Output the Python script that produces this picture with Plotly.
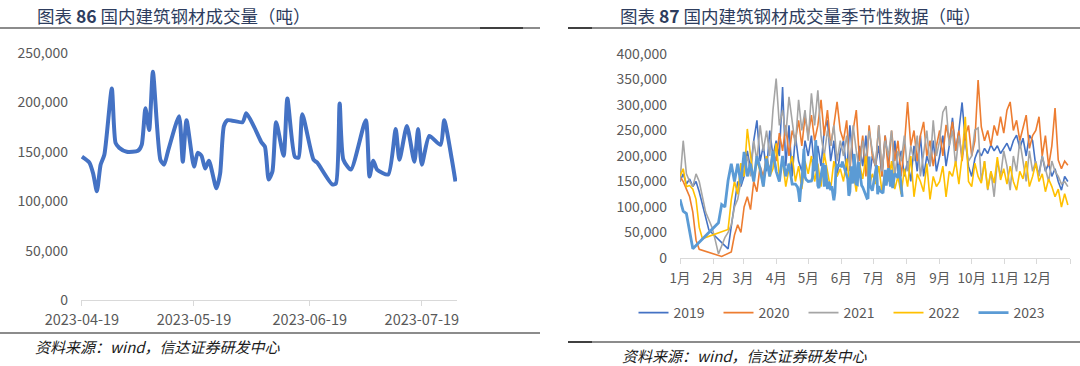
import datetime as dt
import plotly.graph_objects as go

# ---------------- Left chart: 2023 daily volume (thousand tons) ----------------
left_start = "2023-04-19"
left_day_offsets = [0, 2, 3, 4, 5, 6, 8, 9, 10, 12, 15, 16, 17, 18, 19, 21, 22, 23, 26, 27,
                    28, 30, 31, 32, 33, 34, 36, 37, 38, 39, 43, 44, 46, 48, 49, 50, 51, 52, 54, 55,
                    57, 58, 59, 62, 63, 67, 68, 69, 70, 72, 76, 77, 78, 79, 82, 84, 85, 87, 89, 90,
                    91, 93, 96, 97, 99, 100]
left_values_k = [145, 139, 128, 110, 137, 147, 214, 159, 154, 150, 151, 157, 194, 172, 231, 142, 137, 150, 186, 140,
                 182, 135, 149, 146, 133, 141, 113, 128, 176, 182, 180, 189, 176, 160, 155, 122, 130, 180, 146, 204,
                 145, 144, 188, 142, 139, 117, 118, 199, 142, 132, 182, 125, 141, 132, 127, 173, 142, 176, 140, 173,
                 137, 166, 157, 182, 143, 120]
left_ticks = ["2023-04-19", "2023-05-19", "2023-06-19", "2023-07-19"]
left_yticks = [0, 50000, 100000, 150000, 200000, 250000]

# ---------------- Right chart: seasonal data (thousand tons) ----------------
months = ["1月", "2月", "3月", "4月", "5月", "6月", "7月", "8月", "9月", "10月", "11月", "12月"]
month_start_days = [0, 31, 59, 90, 120, 151, 181, 212, 243, 273, 304, 334, 365]
SAMPLE_DAYS = list(range(0, 366, 3))  # sampling positions (day of year)

N = None
v2019 = [150, 165, 145, 155, 140, 150, 130, 105, 80, 55,
         N, N, N, N, N,
         18, 60, 110, 150, 140,
         160, 210, 175, 230, 270, 190, 220, 170, 250, 200,
         230, 200, 335, 180, 260, 160, 240, 190, 170, 230,
         200, 240, 170, 220, 180, 250, 270, 190, 230, 160, 210,
         230, 170, 260, 190, 160, 220, 180, 240, 150, 200,
         180, 220, 160, 240, 190, 150, 230, 170, 210, 160,
         190, 150, 220, 170, 240, 160, 200, 180, 230, 170,
         200, 240, 180, 220, 275, 210, 250, 305, 230, 180,
         160, 195, 212, 200, 215, 205, 222, 210, 220, 205, 215,
         225, 210, 230, 241, 215, 235, 200, 241, 230,
         180, 165, 200, 170, 185, 160, 175, 150, 133, 160, 150]
v2020 = [160, 150, 135, 120, 90, 35, 17,
         N, N, N, N, N, N,
         3,
         N, N,
         12, 45, 65, 50,
         100, 120, 95, 150, 130, 180, 160, 200, 170, 210,
         190, 245, 210, 260, 200, 250, 230, 270, 220, 277,
         240, 280, 230, 260, 310, 240, 290, 220, 260, 306, 250,
         230, 270, 170, 250, 290, 190, 240, 160, 260, 200,
         180, 260, 160, 240, 170, 250, 190, 230, 160, 220,
         306, 220, 250, 190, 240, 267, 200, 230, 180, 220,
         250, 200, 261, 230, 267, 210, 250, 190, 240, 260,
         200, 230, 349, 257, 230, 250, 220, 260, 240, 277, 245,
         290, 306, 250, 270, 230, 257, 280, 215, 240,
         250, 277, 200, 240, 180, 220, 294, 192, 175, 190, 182]
v2021 = [150, 230, 165, 150, 140, 165, 150, 120, 90, 75, 60, 35, 8,
         N,
         40, 50, 65, 100, 115, 150,
         170, 200, 160, 230, 190, 260, 210, 250, 200, 290,
         352, 260, 290, 240, 316, 270, 220, 310, 250, 290,
         230, 323, 260, 329, 240, 200, 250, 220, 260, 190, 230,
         200, 240, 180, 260, 210, 170, 230, 190, 250, 210,
         180, 260, 170, 230, 200, 250, 160, 210, 190, 240,
         170, 220, 190, 240, 160, 210, 250, 180, 270, 200,
         230, 286, 298, 220, 250, 180, 240, 200, 230, 190,
         200, 251, 255, 150, 190, 133, 170, 120, 190, 160, 210,
         180, 133, 200, 170, 230, 188, 150, 210, 170,
         190, 160, 200, 176, 150, 190, 170, 160, 145, 150, 140]
v2022 = [160, 175, 140, 142, 135, 115, 60, 38,
         N, N, N, N, N, N, N,
         56, 114, 150, 125, 186,
         160, 253, 200, 150, 190, 170, 140, 200, 160, 175,
         225, 160, 190, 140, 175, 200, 150, 180, 135, 190,
         165, 200, 150, 185, 140, 205, 170, 135, 190, 160, 175,
         150, 195, 140, 170, 130, 185, 155, 200, 140, 165,
         145, 180, 130, 170, 150, 190, 135, 160, 125, 175,
         140, 200, 120, 165, 150, 130, 185, 115, 160, 140,
         150, 180, 120, 170, 160, 190, 145, 200, 277, 150,
         140, 186, 160, 147, 190, 135, 170, 147, 198, 153, 175,
         145, 180, 150, 133, 170, 155, 190, 140, 160,
         186, 150, 165, 130, 155, 140, 120, 135, 100, 126, 104]
v2023_early = [115, 92, 87, 55, 18,
               N, N, N, N, N, N, N,
               69, 105, 100, 152, 185, 150, 185, 146,
               208, 160, 185, 150, 200, 175, 140, 195, 160, 210,
               170, 150, 200, 160, 185, 145]

right_yticks = [0, 50000, 100000, 150000, 200000, 250000, 300000, 350000, 400000]

UNIT = 1000
FONT = "Noto Sans CJK SC"
GRAY_TXT = "#595959"
AXIS_GRAY = "#D9D9D9"
W, H = 1080, 366


def px(x):
    return x / W


def py(y):
    return 1 - y / H


def k(vals):
    return [None if v is None else v * UNIT for v in vals]


base = dt.date.fromisoformat(left_start)
left_dates = [base + dt.timedelta(days=d) for d in left_day_offsets]

fig = go.Figure()

fig.add_trace(go.Scatter(x=left_dates, y=k(left_values_k), mode="lines",
                         line=dict(color="#4472C4", width=4, shape="spline", smoothing=0.6),
                         showlegend=False, xaxis="x", yaxis="y"))

series = [("2019", v2019, "#4472C4", 1.6), ("2020", v2020, "#ED7D31", 1.6),
          ("2021", v2021, "#A5A5A5", 1.6), ("2022", v2022, "#FFC000", 1.6)]
for name, vals, col, w in series:
    fig.add_trace(go.Scatter(x=SAMPLE_DAYS[:len(vals)], y=k(vals), mode="lines", name=name,
                             connectgaps=True, line=dict(color=col, width=w),
                             xaxis="x2", yaxis="y2"))

jan1 = dt.date(2023, 1, 1)
x2023 = SAMPLE_DAYS[:len(v2023_early)] + [(d - jan1).days for d in left_dates]
y2023 = k(v2023_early) + k(left_values_k)
fig.add_trace(go.Scatter(x=x2023, y=y2023, mode="lines", name="2023", connectgaps=True,
                         line=dict(color="#5B9BD5", width=2.8), xaxis="x2", yaxis="y2"))

ytickfont = dict(family=FONT, size=14, color=GRAY_TXT)
xtickfont = dict(family=FONT, size=14.5, color=GRAY_TXT)
mtickfont = dict(family=FONT, size=13.5, color=GRAY_TXT)

fig.update_layout(
    template="none",
    width=W, height=H, autosize=False,
    margin=dict(l=0, r=0, t=0, b=0, autoexpand=False),
    paper_bgcolor="white", plot_bgcolor="white",
    font=dict(family=FONT, color=GRAY_TXT),
    xaxis=dict(domain=[px(81), px(457)], type="date", automargin=False,
               range=["2023-04-18 18:00", "2023-07-28 10:00"],
               tickvals=left_ticks, ticktext=left_ticks, tickangle=0, ticklabelstandoff=2,
               showgrid=False, zeroline=False, showline=True, linecolor=AXIS_GRAY, linewidth=1,
               ticks="outside", ticklen=5, tickcolor=AXIS_GRAY, tickfont=xtickfont,
               anchor="y"),
    yaxis=dict(domain=[py(300), py(53)], range=[0, 250000], tickvals=left_yticks, automargin=False,
               tickformat=",d", showgrid=False, zeroline=False, showline=False, ticklabelstandoff=12,
               ticks="", tickfont=ytickfont, anchor="x"),
    xaxis2=dict(domain=[px(680), px(1070)], range=[0, 365], automargin=False,
                tickvals=month_start_days, ticktext=months + [""], tickangle=0, ticklabelstandoff=3,
                showgrid=False, zeroline=False, showline=True, linecolor=AXIS_GRAY, linewidth=1,
                ticks="outside", ticklen=5, tickcolor=AXIS_GRAY, tickfont=mtickfont,
                anchor="y2"),
    yaxis2=dict(domain=[py(258), py(54)], range=[0, 400000], tickvals=right_yticks, automargin=False,
                tickformat=",d", showgrid=False, zeroline=False, showline=False, ticklabelstandoff=12,
                ticks="", tickfont=ytickfont, anchor="x2"),
    legend=dict(orientation="h", x=px(846), xanchor="center", y=py(313), yanchor="middle",
                font=dict(family=FONT, size=14, color=GRAY_TXT),
                entrywidth=40, entrywidthmode="pixels", bgcolor="rgba(0,0,0,0)"),
)

title_color = "#2E3D5E"
fig.add_annotation(x=px(35), y=py(15), xref="paper", yref="paper", xanchor="left", yanchor="middle",
                   text="图表 <b>86</b> 国内建筑钢材成交量（吨）", showarrow=False,
                   font=dict(family=FONT, size=17.5, color=title_color))
fig.add_annotation(x=px(618), y=py(15), xref="paper", yref="paper", xanchor="left", yanchor="middle",
                   text="图表 <b>87</b> 国内建筑钢材成交量季节性数据（吨）", showarrow=False,
                   font=dict(family=FONT, size=17.5, color=title_color))
src = "<i>资料来源：wind，信达证券研发中心</i>"
fig.add_annotation(x=px(33), y=py(346), xref="paper", yref="paper", xanchor="left", yanchor="middle",
                   text=src, showarrow=False, font=dict(family=FONT, size=15, color="#1a1a1a"))
fig.add_annotation(x=px(620), y=py(355), xref="paper", yref="paper", xanchor="left", yanchor="middle",
                   text=src, showarrow=False, font=dict(family=FONT, size=15, color="#1a1a1a"))


def hline(x0, x1, y, color, width):
    fig.add_shape(type="line", xref="paper", yref="paper", x0=px(x0), x1=px(x1),
                  y0=py(y), y1=py(y), line=dict(color=color, width=width))


hline(0, 540, 28, "#8C8C8C", 2)
hline(480, 523, 28, "#404040", 2)
hline(568, 1080, 28, "#8C8C8C", 2)
hline(568, 592, 28, "#404040", 2)
hline(0, 540, 333, "#8C8C8C", 2)
hline(568, 1080, 342, "#8C8C8C", 2)
hline(568, 592, 342, "#404040", 2)

fig.write_html("out.html", config={"displayModeBar": False},
               post_script="document.body.style.margin='0px';")
